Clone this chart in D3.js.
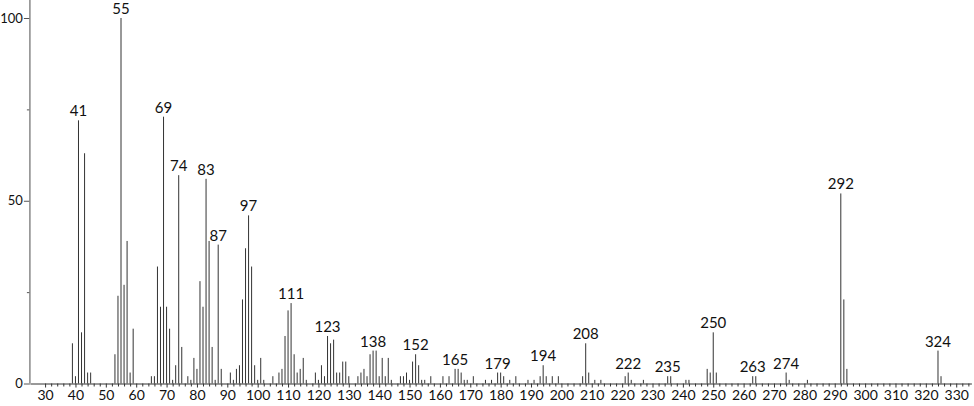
<!DOCTYPE html>
<html>
<head>
<meta charset="utf-8">
<script src="https://cdn.jsdelivr.net/npm/d3@7"></script>
<style>
  body { margin: 0; background: #fff; }
  svg { display: block; font-family: Lato, "Noto Sans", sans-serif; }
</style>
</head>
<body>
<div id="chart"></div>
<script>
// m/z values and relative intensities
var masses = [39,40,41,42,43,44,45,
	53,54,55,56,57,58,59,
	65,66,67,68,69,70,71,72,73,74,75,
	77,78,79,80,81,82,83,84,85,86,87,88,
	91,92,93,94,95,96,97,98,99,100,101,102,
	105,107,108,109,110,111,112,113,114,115,116,
	119,120,121,122,123,124,125,126,127,128,129,130,
	133,134,135,136,137,138,139,140,141,142,143,144,
	147,148,149,150,151,152,153,154,155,157,
	161,163,165,166,167,168,169,171,
	175,177,179,180,181,183,185,
	189,191,193,194,195,197,199,
	207,208,209,211,213,
	221,222,223,227,235,236,241,242,
	248,249,250,251,263,264,274,275,281,
	292,293,294,324,325];

var intensities = [11,2,72,14,63,3,3,
	8,24,100,27,39,3,15,
	2,2,32,21,73,21,15,1,5,57,10,
	2,1,7,4,28,21,56,39,10,1,38,4,
	3,1,4,5,23,37,46,32,5,1,7,1,
	2,3,4,13,20,22,8,3,4,7,1,
	3,1,5,2,13,11,12,3,3,6,6,2,
	2,3,4,2,8,9,9,2,7,2,7,1,
	2,2,3,1,6,8,5,1,1,2,
	2,2,4,4,3,1,1,2,
	1,1,3,3,2,1,2,
	1,1,2,5,2,2,2,
	2,11,3,1,1,
	2,3,1,1,2,2,1,1,
	4,3,14,3,2,2,3,1,1,
	52,23,4,9,2];

var labelled = [41,55,69,74,83,87,97,111,123,138,152,165,179,194,208,222,235,250,263,274,292,324];

var yMajor = [0, 50, 100];
var yMinor = [25, 75];

var width = 974, height = 406;

var x = d3.scaleLinear()
	.domain([25, 335])
	.range([29.9, 971.4]);

var y = d3.scaleLinear()
	.domain([0, 100])
	.range([383.5, 18]);

var svg = d3.select('#chart').append('svg')
	.attr('width', width)
	.attr('height', height);

var peaks = masses.map(function(m, i) { return {m: m, v: intensities[i]}; });

// bars
svg.append('g').selectAll('line')
	.data(peaks)
	.enter().append('line')
		.attr('x1', function(d) { return x(d.m); })
		.attr('x2', function(d) { return x(d.m); })
		.attr('y1', y(0))
		.attr('y2', function(d) { return y(d.v); })
		.style('stroke', '#333')
		.style('stroke-width', 1);

// peak labels
svg.append('g').selectAll('text')
	.data(peaks.filter(function(d) { return labelled.indexOf(d.m) >= 0; }))
	.enter().append('text')
		.attr('x', function(d) { return x(d.m); })
		.attr('y', function(d) { return y(d.v) - 4; })
		.attr('text-anchor', 'middle')
		.style('font-size', '15px')
		.style('fill', '#111')
		.text(function(d) { return d.m; });

// x axis: major ticks with labels, minor every 2
var xAxis = d3.axisBottom(x)
	.tickValues(d3.range(30, 331, 10))
	.tickSize(4)
	.tickSizeOuter(0)
	.tickPadding(3);

var xGuide = svg.append('g')
	.attr('transform', 'translate(0,' + y(0) + ')');
xAxis(xGuide);
xGuide.select('.domain').style('stroke', '#333');
xGuide.selectAll('.tick line').style('stroke', '#333');
xGuide.selectAll('.tick text')
	.style('font-size', '14px')
	.style('font-family', 'Lato, "Noto Sans", sans-serif')
	.style('fill', '#111');

var xMinorAxis = d3.axisBottom(x)
	.tickValues(d3.range(30, 335, 2).filter(function(v) { return v % 10 !== 0; }))
	.tickSize(3)
	.tickSizeOuter(0)
	.tickFormat('');

var xMinor = svg.append('g')
	.attr('transform', 'translate(0,' + y(0) + ')');
xMinorAxis(xMinor);
xMinor.select('.domain').remove();
xMinor.selectAll('.tick line').style('stroke', '#333');

// y axis
var yAxis = d3.axisLeft(y)
	.tickValues(yMajor)
	.tickSize(6)
	.tickSizeOuter(0)
	.tickPadding(1);

var yGuide = svg.append('g')
	.attr('transform', 'translate(' + x(25) + ',0)');
yAxis(yGuide);
yGuide.select('.domain').remove();
yGuide.selectAll('.tick line').style('stroke', '#555');
yGuide.selectAll('.tick text')
	.style('font-size', '13px')
	.style('font-family', 'Lato, "Noto Sans", sans-serif')
	.style('fill', '#111');

var yMinorAxis = d3.axisLeft(y)
	.tickValues(yMinor)
	.tickSize(3)
	.tickFormat('');
var yMinorG = svg.append('g')
	.attr('transform', 'translate(' + x(25) + ',0)');
yMinorAxis(yMinorG);
yMinorG.select('.domain').remove();
yMinorG.selectAll('.tick line').style('stroke', '#555');

svg.append('line')
	.attr('x1', x(25)).attr('x2', x(25))
	.attr('y1', 0).attr('y2', y(0))
	.style('stroke', '#888')
	.style('stroke-width', 1.5);
</script>
</body>
</html>
